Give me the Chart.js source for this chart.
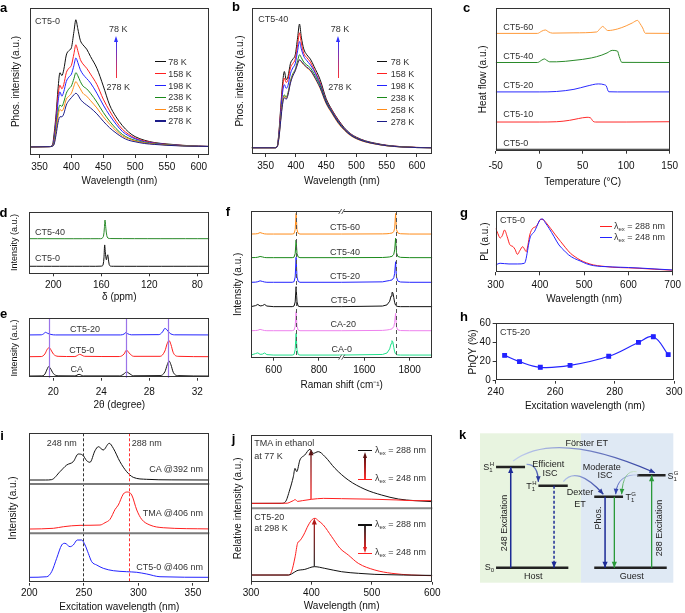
<!DOCTYPE html>
<html lang="en">
<head>
<meta charset="UTF-8">
<title>CT5 phosphorescence figure</title>
<style>
  body { margin: 0; background: #fff; }
  #wrap { position: relative; width: 685px; height: 613px; overflow: hidden; background: #fff;
          font-family: "Liberation Sans", Arial, sans-serif; color: #222; }
  #wrap canvas { position: absolute; left: 0; top: 0; }
  .t { position: absolute; white-space: nowrap; line-height: 1; }
  .sb { font-size: 6px; vertical-align: -2px; }
  .sp { font-size: 6px; vertical-align: 4px; margin-left: -3px; }
</style>
</head>
<body>
<div id="wrap"></div>
<script src="https://cdn.jsdelivr.net/npm/chart.js"></script>
<script>
// ---------- data ----------
const tempLabels = ['78 K', '158 K', '198 K', '238 K', '258 K', '278 K'];

// a: CT5-0 phosphorescence vs temperature
const aWl = [335, 365, 370, 373, 376, 379, 382, 385, 388, 392, 396, 400, 404, 407, 410, 414, 418, 424, 430, 440, 450, 460, 470, 480, 490, 500, 515, 530, 550, 575, 600, 616];
const a78  = [5.5, 5.7, 6.5, 15, 28, 45, 56, 54, 58, 68, 71, 73, 84, 92, 86, 78, 75, 72, 67, 59, 47, 34, 26, 20, 15.5, 12.5, 10, 8.5, 7.5, 6.6, 6.0, 5.8];
const a158 = [5.5, 5.7, 6.3, 12, 25, 40, 47.5, 45, 48, 56, 59, 61, 69, 75, 71, 65, 62, 59, 55, 48, 38, 30, 23, 17.5, 14, 11.5, 9.5, 8.2, 7.2, 6.5, 6.0, 5.8];
const a198 = [5.5, 5.7, 6.2, 11, 22, 36, 43, 40, 43, 50, 53, 55, 61, 66, 63, 58, 55, 52, 49, 42, 34, 27, 21, 16, 13, 11, 9, 8, 7.1, 6.4, 6.0, 5.8];
const a238 = [5.5, 5.7, 6.1, 9, 18, 29, 34, 33, 36, 42, 45, 47, 52, 56, 54, 50, 47, 45, 42, 36, 29, 23, 18, 14, 11.5, 10, 8.5, 7.6, 6.9, 6.3, 5.9, 5.8];
const a258 = [5.5, 5.7, 6.0, 8, 16, 26, 31, 30, 32, 38, 40, 42, 47, 50, 48, 45, 42, 40, 37, 32, 26, 21, 16.5, 13, 11, 9.5, 8.2, 7.4, 6.8, 6.2, 5.9, 5.8];
const a278 = [5.5, 5.7, 5.9, 7.5, 14, 22, 26, 26, 28, 34, 37, 39, 41, 42, 41, 38, 36, 34, 32, 28, 23, 18.5, 15, 12, 10, 9, 7.8, 7.2, 6.6, 6.1, 5.9, 5.8];

// b: CT5-40 phosphorescence vs temperature
const bWl = [327, 365, 369, 372, 375, 378, 381, 384, 387, 391, 395, 399, 403, 406, 409, 413, 418, 424, 430, 440, 450, 460, 470, 480, 490, 500, 515, 530, 550, 575, 600, 625];
const b78  = [4.3, 4.3, 5, 15, 32, 48, 56.5, 51, 53, 62, 65, 68, 80, 89, 80, 72, 68, 65, 60, 51, 38, 30, 23.5, 18, 14, 11.5, 9, 7.5, 6, 5, 4.5, 4.3];
const b158 = [4.3, 4.3, 5, 14, 30, 45, 52, 49, 51, 59, 62, 65, 75, 83, 76, 69, 66, 63, 58, 49, 37, 29.5, 23, 17.5, 13.7, 11.2, 8.8, 7.3, 5.9, 5, 4.5, 4.3];
const b198 = [4.3, 4.3, 5, 13, 28, 42, 47.5, 45, 47, 55, 59, 62, 71, 77, 72, 67, 64, 61, 57, 48, 36.5, 29, 22.5, 17.3, 13.5, 11, 8.7, 7.2, 5.8, 4.9, 4.4, 4.3];
const b238 = [4.3, 4.3, 5, 12, 25, 36, 40.5, 39, 42, 50, 55, 58, 64, 68, 66, 63, 61, 59, 55, 47, 36, 28.5, 22, 17, 13.2, 10.8, 8.5, 7.1, 5.7, 4.9, 4.4, 4.3];
const b258 = [4.3, 4.3, 4.8, 11, 24, 35, 39.5, 38, 41, 49, 54, 57, 62, 64.5, 63, 61, 59, 57, 53, 45, 34.5, 27.5, 21, 16.3, 12.7, 10.4, 8.2, 6.9, 5.6, 4.8, 4.4, 4.3];
const b278 = [4.3, 4.3, 4.8, 11, 23, 34, 38.5, 37.5, 40.5, 48.5, 53.5, 57, 62, 64.5, 63.5, 61.5, 59.5, 57.5, 53.5, 45.5, 35, 28, 21.5, 16.6, 13, 10.6, 8.4, 7, 5.7, 4.8, 4.4, 4.3];

// c: DSC heat flow
const c0T = [-50, 150];
const c0H = [1, 1];
const c10T = [-50, 0, 20, 35, 45, 55, 59, 62, 65, 100, 150];
const c10H = [20.1, 20.1, 20.3, 21.3, 22.5, 23.4, 23, 20.6, 20.1, 20.1, 20.3];
const c20T = [-50, 0, 20, 40, 55, 68, 75, 77, 80, 90, 150];
const c20H = [41.2, 41.2, 41.5, 43, 45.3, 46.8, 46.2, 45.5, 41.3, 41.2, 41.2];
const c40T = [-50, -2, 3, 6, 9, 12, 20, 40, 60, 72, 78, 84, 90, 92, 95, 150];
const c40H = [61.8, 61.8, 63.5, 64.3, 63.2, 62.3, 62.3, 63.3, 65, 67, 68.5, 70.3, 69.8, 66, 61.9, 61.8];
const c60T = [-50, -2, 3, 7, 11, 15, 40, 66, 70, 73, 76, 79, 90, 100, 107, 113, 116, 119, 122, 150];
const c60H = [82.2, 82.2, 83.8, 84.6, 83.2, 82.4, 82.6, 83.2, 85.5, 87.1, 85.5, 84.2, 85.3, 87.5, 89.5, 91.3, 89, 86, 82.3, 82.2];

// d: 13C NMR
const d0ppm = [220, 170, 160, 158.6, 157.8, 157.2, 156.6, 155.8, 155.2, 154.6, 154.1, 153.4, 152.6, 150, 70];
const d0val = [11.4, 11.4, 11.6, 13, 25, 46, 33, 22, 27, 30, 23, 14, 11.8, 11.4, 11.4];
const d40ppm = [220, 162, 159.5, 158.2, 157.5, 156.9, 156.2, 155.4, 154.5, 152, 70];
const d40val = [56.2, 56.2, 56.6, 60, 72, 86.5, 73, 61, 57.2, 56.4, 56.2];

// e: XRD
const eCA2t = [18, 19.0, 19.3, 19.5, 19.6, 19.75, 20.0, 20.4, 21.8, 22.15, 22.5, 25.5, 25.9, 26.1, 26.3, 26.7, 28.9, 29.3, 29.5, 29.65, 29.8, 30.0, 30.4, 33];
const eCAval = [2.8, 3.0, 6, 15, 18.5, 16, 7, 3.2, 3.0, 5.6, 3.0, 3.0, 6.5, 10, 7.5, 3.2, 3.5, 10, 22, 28, 22, 9, 3.5, 2.8];
const eCT0_2t = [18, 19.0, 19.3, 19.5, 19.65, 19.8, 20.0, 20.4, 21.8, 22.2, 22.6, 25.5, 25.9, 26.1, 26.3, 26.7, 28.9, 29.3, 29.5, 29.65, 29.8, 30.0, 30.4, 33];
const eCT0val = [35.4, 35.6, 40, 48, 50.6, 47, 40, 36, 35.6, 39.3, 36, 35.6, 40, 46.6, 42, 36, 36, 45, 58, 62.4, 56, 42, 36, 35.4];
const eCT20_2t = [18, 19.0, 19.2, 19.35, 19.5, 19.8, 20.2, 25.6, 25.9, 26.05, 26.2, 26.5, 28.8, 29.1, 29.3, 29.45, 29.7, 30.1, 33];
const eCT20val = [72, 72.2, 74, 76.4, 75, 72.8, 72, 72, 73.5, 76, 74, 72.2, 72.5, 77, 83, 81, 75, 72.2, 72];
const eRefLines = [19.6, 26.1, 29.6];

// f: Raman (axis broken between 900 and 1500 cm-1)
const fShift = [500, 520, 530, 540, 550, 560, 570, 600, 682, 690, 695, 699, 703, 708, 716, 800, 900, 1500, 1680, 1700, 1712, 1718, 1722, 1726, 1730, 1734, 1738, 1742, 1748, 1760, 1800, 1900];
const fCT60 = [84.3, 84.4, 84.6, 85.3, 84.8, 84.4, 84.3, 84.3, 84.3, 84.6, 87.3, 98.4, 87.3, 84.8, 84.3, 84.3, 84.3, 84.3, 84.4, 84.5, 84.7, 84.9, 85.1, 85.4, 85.9, 88.3, 98.3, 87.3, 85, 84.5, 84.3, 84.3];
const fCT40 = [68.2, 68.3, 68.5, 69, 68.7, 68.3, 68.2, 68.2, 68.2, 68.5, 71, 80.2, 71, 68.7, 68.2, 68.2, 68.2, 68.2, 68.3, 68.5, 68.7, 69, 69.3, 69.7, 70.5, 73.5, 81.4, 71.5, 69, 68.4, 68.2, 68.2];
const fCT20 = [51.4, 51.5, 51.8, 52.4, 52, 51.6, 51.4, 51.4, 51.4, 51.8, 55, 68.4, 55, 52, 51.4, 51.4, 51.4, 51.4, 51.7, 52.3, 52.6, 52.9, 53.2, 53.6, 54.5, 57.5, 65.4, 55, 52.2, 51.6, 51.4, 51.4];
const fCT0  = [34.8, 35.5, 36.3, 35.3, 35.5, 36.3, 35.2, 34.8, 34.8, 35.2, 38, 48.4, 38, 35.2, 34.8, 34.8, 34.8, 34.8, 35.2, 36, 38.5, 42, 44.5, 44.3, 41, 37.5, 35.8, 35.2, 34.9, 34.8, 34.8, 34.8];
const fCA20 = [18.4, 18.5, 18.7, 19.3, 18.9, 18.5, 18.4, 18.4, 18.4, 18.8, 21.5, 31.4, 21.5, 18.9, 18.4, 18.4, 18.4, 18.4, 18.6, 18.9, 19.2, 19.5, 19.9, 20.3, 21, 24, 30.2, 21, 18.9, 18.5, 18.4, 18.4];
const fCA0  = [1.8, 2.8, 3.3, 2.3, 2.4, 3.2, 2.1, 1.8, 1.8, 2.2, 5.5, 16.6, 5.5, 2.2, 1.8, 1.8, 1.8, 1.8, 2.2, 3.2, 6, 9.5, 11.6, 10.8, 7, 4, 2.6, 2.1, 1.9, 1.8, 1.8, 1.8];
const fRefShifts = [699, 1738];
const fTicks = [600, 800, 1600, 1800];

// g: PL of CT5-0 at two excitations
const gWl288 = [300, 305, 310, 315, 320, 326, 332, 339, 344, 349, 355, 361, 365, 369, 373, 377, 384, 391, 396, 401, 408, 416, 424, 435, 447, 458, 469, 480, 491, 505, 521, 540, 565, 600, 624, 660, 700];
const gPL288 = [71.7, 63, 56, 60, 69, 58, 45, 42, 37, 29.3, 36, 41.8, 38, 33.7, 45, 61, 72, 74.5, 80, 86.4, 85.5, 79, 71.7, 61, 50, 40, 31, 25, 20, 15.5, 12, 10, 8.2, 7.3, 6.5, 5, 3.3];
const gWl248 = [300, 310, 330, 350, 365, 368, 371, 375, 378.5, 383, 387.4, 393, 398.5, 402, 406, 412, 420.7, 432, 443, 454, 465, 478, 491, 505, 521, 540, 565, 600, 624, 660, 700];
const gPL248 = [12, 14.7, 13.6, 13.6, 14.7, 20, 31, 48, 58, 63, 66.3, 75, 83.7, 86.5, 87, 81, 71.7, 58, 44.6, 36, 28.3, 22.5, 18.5, 14, 10.9, 9.5, 8.7, 7.8, 7, 5.5, 3.8];

// h: PhQY of CT5-20 vs excitation wavelength
const hWl = [243, 248, 255, 265, 278, 288, 293, 298];
const hQY = [26.5, 19.9, 14, 16, 25.5, 40, 46, 27.2];

// i: excitation spectra (three stacked panels)
const iCAWl = [200, 215, 220.5, 228.1, 234.3, 240.3, 244.9, 248.9, 252.6, 255.6, 260.2, 263.3, 267.8, 273.3, 277, 283.1, 289.3, 295.3, 307.6, 330, 365];
const iCAVal = [206.2, 206.2, 207, 222.9, 236.3, 243, 258.4, 256.4, 245, 241.8, 265, 273.1, 266.5, 279.9, 269.9, 243, 222.9, 211.6, 207.6, 206.5, 206.2];
const iTMAWl = [200, 222, 231.2, 246.5, 264.8, 269.4, 274, 278.7, 281.6, 286.2, 289.8, 293.9, 298.5, 303, 310.6, 322.8, 365];
const iTMAVal = [107.8, 109.2, 112.4, 115.2, 115.8, 120.5, 127.3, 147.4, 156, 178.1, 182.1, 176.1, 146, 127.3, 115.8, 110.4, 108];
const iCTWl = [200, 216, 220.5, 225.1, 229.7, 232.7, 237.3, 240.3, 244, 248, 251.1, 254.1, 257.2, 261.8, 267.8, 277, 289.3, 298.5, 307.6, 319.8, 365];
const iCTVal = [10.8, 12, 22.1, 49, 75.7, 79.1, 72.3, 75.7, 85.7, 85.7, 75.7, 59, 42.2, 35.5, 28.9, 24.1, 22.1, 20.9, 17.5, 12, 10.8];
const iExc = [249, 291];

// j: relative intensities, TMA in ethanol (top) and CT5-20 (bottom)
const jTopBlackWl = [300, 350, 357, 364, 370, 372.8, 375.6, 381, 389, 397.6, 403, 411.4, 422.4, 439, 461, 488.6, 516, 544, 571, 600];
const jTopBlack = [106.8, 106.8, 109, 125, 143, 154.5, 150, 166, 172.7, 180.5, 175, 177.3, 170.5, 154.5, 138.6, 125.9, 118.2, 112.7, 110.5, 109.1];
const jTopRedWl = [300, 360, 366, 370, 373, 377, 385, 400, 420, 450, 500, 540, 570, 600];
const jTopRed = [106.8, 107, 109, 110.5, 112, 109.5, 110.5, 112.3, 113.6, 113.2, 112.5, 111.5, 110.5, 110.5];
const jBotRedWl = [300, 362, 367, 373, 377, 381, 387, 395, 401.5, 406, 411.4, 419.7, 433.5, 447.3, 461, 477.6, 505, 533, 566, 600];
const jBotRed = [9.1, 9.1, 13.6, 34, 52.3, 55.9, 63.6, 77.3, 85, 86.4, 83.2, 77.3, 61.4, 45.5, 36.4, 25, 15.9, 11.4, 9.1, 8.2];
const jBotBlackWl = [300, 362, 367, 376, 389, 405, 422, 450, 478, 505, 600];
const jBotBlack = [9.1, 9.1, 10.5, 15, 16.8, 20.5, 18.2, 13.6, 11.4, 10, 8.6];

// k: energy level diagram (x: arbitrary position 0-100, y: energy 0-100)
const kLevelX0 = [8.3, 59.1, 8.3, 30.2, 59.1, 81.2];
const kLevelX1 = [45.7, 96.6, 23.3, 45.4, 74, 96];
const kLevelE  = [10, 10, 77.4, 64.9, 57.6, 71.9];
const kTransX    = [15.9, 38.3, 64.7, 69.5, 88.8];
const kTransFrom = [10, 64.9, 57.6, 57.6, 10];
const kTransTo   = [77.4, 10, 10, 10, 71.9];
const kCurves = [
  [17.1, 81.5, 39.4, 102.7, 90.5, 73.6],
  [24.1, 79.2, 30, 79.4, 30.2, 67.6],
  [43.1, 67.6, 50, 78.8, 63.8, 59.2],
  [81.9, 72.1, 71, 73, 70.2, 59.2],
  [81.1, 74.3, 74, 76, 73.3, 59.2]
];
const kSplit = 52.2;

// ---------- setup ----------
const W = 685, H = 613;
const wrap = document.getElementById('wrap');

Chart.defaults.font.family = '"Liberation Sans", Arial, sans-serif';
Chart.defaults.font.size = 10;
Chart.defaults.color = '#111';
Chart.defaults.animation = false;
Chart.defaults.responsive = false;
Chart.defaults.events = [];
Chart.defaults.plugins.legend.display = false;
Chart.defaults.plugins.tooltip.enabled = false;

function pts(xs, ys) { return xs.map((x, i) => ({ x: x, y: ys[i] })); }
function line(xs, ys, color, extra) {
  return Object.assign({ data: pts(xs, ys), borderColor: color, borderWidth: 1, pointRadius: 0,
    fill: false, cubicInterpolationMode: 'monotone' }, extra || {});
}

function head(ctx, x, y, ang, len, wid, color) {
  const c = Math.cos(ang), s = Math.sin(ang);
  ctx.fillStyle = color;
  ctx.beginPath();
  ctx.moveTo(x, y);
  ctx.lineTo(x - len * c + wid * s, y - len * s - wid * c);
  ctx.lineTo(x - len * c - wid * s, y - len * s + wid * c);
  ctx.closePath();
  ctx.fill();
}

const framePlugin = {
  id: 'frame',
  afterDatasetsDraw(chart, args, o) {
    const ctx = chart.ctx, a = chart.chartArea, sx = chart.scales.x, sy = chart.scales.y;
    ctx.save();
    (o.vlines || []).forEach(l => {
      const px = Math.round(sx.getPixelForValue(l.x)) + 0.5;
      ctx.strokeStyle = l.color; ctx.lineWidth = l.width || 1; ctx.setLineDash(l.dash || []);
      ctx.beginPath(); ctx.moveTo(px, a.top); ctx.lineTo(px, a.bottom); ctx.stroke();
    });
    ctx.setLineDash([]);
    (o.hlines || []).forEach(l => {
      const py = sy.getPixelForValue(l.y);
      ctx.strokeStyle = l.color; ctx.lineWidth = l.width || 1;
      ctx.beginPath(); ctx.moveTo(a.left, py); ctx.lineTo(a.right, py); ctx.stroke();
    });
    (o.arrows || []).forEach(ar => {
      const px = sx.getPixelForValue(ar.x), p0 = sy.getPixelForValue(ar.y0), p1 = sy.getPixelForValue(ar.y1);
      const g = ctx.createLinearGradient(0, p0, 0, p1);
      g.addColorStop(0, ar.c0); g.addColorStop(1, ar.c1);
      const up = p1 < p0;
      ctx.strokeStyle = g; ctx.lineWidth = 1.3;
      ctx.beginPath(); ctx.moveTo(px, p0); ctx.lineTo(px, p1 + (up ? 4 : -4)); ctx.stroke();
      head(ctx, px, p1, up ? -Math.PI / 2 : Math.PI / 2, 6, 2.5, ar.c1);
    });
    if (o.box !== false) {
      ctx.strokeStyle = '#333'; ctx.lineWidth = 1;
      ctx.strokeRect(Math.round(a.left) + 0.5, Math.round(a.top) + 0.5,
        Math.round(a.right - a.left) - 1, Math.round(a.bottom - a.top) - 1);
    }
    if (o.breakAt != null) {
      const px = sx.getPixelForValue(o.breakAt);
      [a.top + 0.5, a.bottom - 0.5].forEach(py => {
        ctx.fillStyle = '#fff'; ctx.fillRect(px - 2, py - 2, 4, 4);
        ctx.strokeStyle = '#333'; ctx.lineWidth = 0.8;
        [-1.5, 1.5].forEach(d => {
          ctx.beginPath(); ctx.moveTo(px + d - 1.5, py + 2.5); ctx.lineTo(px + d + 1.5, py - 2.5); ctx.stroke();
        });
      });
    }
    ctx.restore();
  }
};
Chart.register(framePlugin);

function makeCanvas() {
  const c = document.createElement('canvas');
  c.width = W; c.height = H;
  wrap.appendChild(c);
  return c;
}

// p.box = plot area in page pixels; titles placed by their centre
function panel(p) {
  const b = p.box;
  const yLh = (p.yTitleSize || 10) * 1.2;
  const yw = b.l - (p.yTitleX - yLh / 2);
  const xh = p.xTitleY + 2 - (b.t + b.h);
  const yScale = {
    min: p.yMin, max: p.yMax,
    afterFit: s => { s.width = yw; },
    ticks: { display: !!p.yTicks, padding: 2, color: '#111', callback: v => String(v) },
    grid: { display: !!p.yTicks, drawOnChartArea: false, tickLength: 3, color: '#333' },
    border: { display: false },
    title: { display: true, text: p.yTitle, padding: 0, color: '#111', font: { size: p.yTitleSize || 10 } }
  };
  if (p.yTicks) yScale.afterBuildTicks = s => { s.ticks = p.yTicks.map(v => ({ value: v })); };
  const c = makeCanvas();
  return new Chart(c, {
    type: 'line',
    data: { datasets: p.datasets },
    options: {
      layout: { padding: { left: b.l - yw, top: b.t, right: W - b.l - b.w, bottom: H - b.t - b.h - xh } },
      scales: {
        x: {
          type: 'linear', min: p.xMin, max: p.xMax, reverse: !!p.xReverse,
          afterFit: s => { s.height = xh; },
          afterBuildTicks: s => { s.ticks = p.xTicks.map(v => ({ value: v })); },
          ticks: { padding: p.xPad, maxRotation: 0, autoSkip: false, color: '#111',
                   callback: p.xLabel || (v => String(v)) },
          grid: { drawOnChartArea: false, tickLength: 3, color: '#333' },
          border: { display: false },
          title: { display: true, text: p.xTitle, padding: { top: 0, bottom: -4 }, color: '#111', font: { size: 10 } }
        },
        y: yScale
      },
      plugins: { frame: p.frame || {} }
    }
  });
}

// html text helpers (page pixel anchors)
function txt(x, y, html, o) {
  o = o || {};
  const d = document.createElement('div');
  d.className = 't';
  d.innerHTML = html;
  d.style.left = x + 'px';
  d.style.top = y + 'px';
  d.style.fontSize = (o.size || 9) + 'px';
  d.style.color = o.color || '#222';
  if (o.bold) d.style.fontWeight = 'bold';
  const ax = o.align === 'right' ? '-100%' : o.align === 'left' ? '0' : '-50%';
  d.style.transform = 'translate(' + ax + ',-50%)' + (o.rot ? ' rotate(-90deg)' : '');
  wrap.appendChild(d);
}
function swatch(x0, x1, y, color) {
  const d = document.createElement('div');
  d.style.cssText = 'position:absolute;left:' + x0 + 'px;top:' + (y - 0.75) + 'px;width:' + (x1 - x0) +
    'px;height:1.5px;background:' + color;
  wrap.appendChild(d);
}
function vArrow(x, yFrom, yTo, cFrom, cTo) {
  const up = yTo < yFrom;
  const top = up ? yTo + 4 : yFrom, h = Math.abs(yTo - yFrom) - 4;
  const s = document.createElement('div');
  s.style.cssText = 'position:absolute;left:' + (x - 0.75) + 'px;top:' + top + 'px;width:1.5px;height:' + h +
    'px;background:linear-gradient(' + (up ? 'to top' : 'to bottom') + ',' + cFrom + ',' + cTo + ')';
  wrap.appendChild(s);
  const hd = document.createElement('div');
  hd.style.cssText = 'position:absolute;left:' + (x - 2.5) + 'px;top:' + (up ? yTo : yTo - 6) +
    'px;width:0;height:0;border-left:2.5px solid transparent;border-right:2.5px solid transparent;' +
    (up ? 'border-bottom' : 'border-top') + ':6px solid ' + cTo;
  wrap.appendChild(hd);
}
const lex = 'λ<span class="sb">ex</span>';
function lev(s, a, b) { return s + '<span class="sb">' + a + '</span>' + (b ? '<span class="sp">' + b + '</span>' : ''); }

const tempColors = ['#111111', '#ff2020', '#2323ff', '#1b8a1b', '#ff8c1a', '#1c1c88'];

// ---------- a ----------
panel({
  box: { l: 30, t: 8, w: 179, h: 147 },
  xMin: 335, xMax: 616, xTicks: [350, 400, 450, 500, 550, 600], xPad: 3,
  xTitle: 'Wavelength (nm)', xTitleY: 181.7,
  yMin: 0, yMax: 100, yTitle: 'Phos. intensity (a.u.)', yTitleX: 16.7,
  datasets: [a278, a258, a238, a198, a158, a78].map((ys, i) => line(aWl, ys, tempColors[5 - i]))
});

// ---------- b ----------
panel({
  box: { l: 251.7, t: 8, w: 180.3, h: 146 },
  xMin: 327, xMax: 625, xTicks: [350, 400, 450, 500, 550, 600], xPad: 3,
  xTitle: 'Wavelength (nm)', xTitleY: 181.7,
  yMin: 0, yMax: 100, yTitle: 'Phos. intensity (a.u.)', yTitleX: 240,
  datasets: [b278, b258, b238, b198, b158, b78].map((ys, i) => line(bWl, ys, tempColors[5 - i]))
});

// ---------- c ----------
panel({
  box: { l: 495.7, t: 8, w: 180, h: 142.7 },
  xMin: -50, xMax: 150, xTicks: [-50, 0, 50, 100, 150], xPad: 7,
  xTitle: 'Temperature (°C)', xTitleY: 182.7,
  yMin: 0, yMax: 100, yTitle: 'Heat flow (a.u.)', yTitleX: 483.3,
  datasets: [
    line(c0T, c0H, '#222'),
    line(c10T, c10H, '#ff2a2a'),
    line(c20T, c20H, '#2a2aff'),
    line(c40T, c40H, '#2a8a2a'),
    line(c60T, c60H, '#ff9a3a')
  ]
});

// ---------- d ----------
panel({
  box: { l: 29.3, t: 211.7, w: 180, h: 61.6 },
  xMin: 70, xMax: 220, xReverse: true, xTicks: [200, 160, 120, 80], xPad: 2.5,
  xTitle: 'δ (ppm)', xTitleY: 297.3,
  yMin: 0, yMax: 100, yTitle: 'Intensity (a.u.)', yTitleX: 15, yTitleSize: 9,
  datasets: [
    line(d0ppm, d0val, '#111', { cubicInterpolationMode: 'default', tension: 0.3 }),
    line(d40ppm, d40val, '#2a8a2a', { cubicInterpolationMode: 'default', tension: 0.3 })
  ]
});

// ---------- e ----------
panel({
  box: { l: 29.3, t: 318.3, w: 180, h: 59.4 },
  xMin: 18, xMax: 33, xTicks: [20, 24, 28, 32], xPad: 5.5,
  xTitle: '2θ (degree)', xTitleY: 405,
  yMin: 0, yMax: 100, yTitle: 'Intensity (a.u.)', yTitleX: 15, yTitleSize: 9,
  datasets: [
    line(eCA2t, eCAval, '#111'),
    line(eCT0_2t, eCT0val, '#ff2020'),
    line(eCT20_2t, eCT20val, '#2323ff')
  ],
  frame: { vlines: eRefLines.map(x => ({ x: x, color: '#9b74e8', width: 1.2 })) }
});

// ---------- f ----------
const fMap = v => (v <= 900 ? v : v - 600);
panel({
  box: { l: 251, t: 211, w: 181.3, h: 146.7 },
  xMin: 500, xMax: 1300, xTicks: fTicks.map(fMap), xPad: 4,
  xLabel: v => String(v <= 900 ? v : v + 600),
  xTitle: 'Raman shift (cm⁻¹)', xTitleY: 385.7,
  yMin: 0, yMax: 100, yTitle: 'Intensity (a.u.)', yTitleX: 238.3,
  datasets: [
    [fCT60, '#ff8c1a'], [fCT40, '#1b8a1b'], [fCT20, '#2323ff'],
    [fCT0, '#111'], [fCA20, '#ee82ee'], [fCA0, '#1fe08a']
  ].map(s => line(fShift.map(fMap), s[0], s[1], { cubicInterpolationMode: 'default', tension: 0 })),
  frame: {
    vlines: fRefShifts.map(x => ({ x: fMap(x), color: '#555', dash: [4, 3], width: 1 })),
    breakAt: 900
  }
});

// ---------- g ----------
panel({
  box: { l: 495.7, t: 211, w: 180, h: 61.3 },
  xMin: 300, xMax: 700, xTicks: [300, 400, 500, 600, 700], xPad: 4,
  xTitle: 'Wavelength (nm)', xTitleY: 299,
  yMin: 0, yMax: 100, yTitle: 'PL (a.u.)', yTitleX: 485,
  datasets: [
    line(gWl248, gPL248, '#2323ff'),
    line(gWl288, gPL288, '#ff2020')
  ]
});

// ---------- h ----------
panel({
  box: { l: 495.7, t: 323.3, w: 180, h: 57.4 },
  xMin: 240, xMax: 300, xTicks: [240, 260, 280, 300], xPad: 2.5,
  xTitle: 'Excitation wavelength (nm)', xTitleY: 406.7,
  yMin: 0, yMax: 60, yTicks: [0, 20, 40, 60], yTitle: 'PhQY (%)', yTitleX: 473.3,
  datasets: [
    line(hWl, hQY, '#2323ff', { cubicInterpolationMode: 'default', tension: 0.4, pointRadius: 2.6,
      pointStyle: 'rect', pointBackgroundColor: '#2323ff', pointBorderColor: '#2323ff', borderWidth: 1.2 })
  ]
});

// ---------- i ----------
panel({
  box: { l: 29.3, t: 433.3, w: 180, h: 149.4 },
  xMin: 200, xMax: 365, xTicks: [200, 250, 300, 350], xPad: 1.5,
  xTitle: 'Excitation wavelength (nm)', xTitleY: 607,
  yMin: 0, yMax: 300, yTitle: 'Intensity (a.u.)', yTitleX: 13.3,
  datasets: [
    line(iCAWl, iCAVal, '#111'),
    line(iTMAWl, iTMAVal, '#ff2020'),
    line(iCTWl, iCTVal, '#2323ff')
  ],
  frame: {
    hlines: [{ y: 99.2, color: '#7a7a7a', width: 2 }, { y: 198.2, color: '#7a7a7a', width: 2 }],
    vlines: [{ x: iExc[0], color: '#333', dash: [3, 2] }, { x: iExc[1], color: '#ff3030', dash: [3, 2] }]
  }
});

// ---------- j ----------
panel({
  box: { l: 251, t: 435, w: 181.3, h: 146.7 },
  xMin: 300, xMax: 600, xTicks: [300, 400, 500, 600], xPad: 2.5,
  xTitle: 'Wavelength (nm)', xTitleY: 606.5,
  yMin: 0, yMax: 200, yTitle: 'Relative intensity (a.u.)', yTitleX: 238.3,
  datasets: [
    line(jTopRedWl, jTopRed, '#ff2020'),
    line(jTopBlackWl, jTopBlack, '#111'),
    line(jBotBlackWl, jBotBlack, '#111'),
    line(jBotRedWl, jBotRed, '#ff2020')
  ],
  frame: {
    hlines: [{ y: 100, color: '#8a8a8a', width: 2 }],
    arrows: [
      { x: 399.3, y0: 112.3, y1: 180.5, c0: '#ff2020', c1: '#5a1010' },
      { x: 404.8, y0: 20.5, y1: 86, c0: '#333', c1: '#b01818' }
    ]
  }
});

// ---------- k ----------
const kTransColors = ['#1c2a96', '#1c2a96', '#1c2a96', '#2a9a3a', '#2a9a3a'];
const kCurveFrom = ['#c3d0f0', '#8fa2dc', '#b3c3ea', '#c9d5ef', '#cfe3cf'];
const kCurveTo = ['#2b3a9e', '#2b3a9e', '#2b3a9e', '#3444b0', '#2a9a3a'];
const kPlugin = {
  id: 'kdiag',
  beforeDatasetsDraw(chart) {
    const ctx = chart.ctx, sx = chart.scales.x, sy = chart.scales.y;
    const xa = sx.getPixelForValue(0), xm = sx.getPixelForValue(kSplit), xb = sx.getPixelForValue(100);
    const ya = sy.getPixelForValue(100), yb = sy.getPixelForValue(0);
    ctx.save();
    ctx.fillStyle = '#e8f4e0'; ctx.fillRect(xa, ya, xm - xa, yb - ya);
    ctx.fillStyle = '#dfe9f4'; ctx.fillRect(xm, ya, xb - xm, yb - ya);
    ctx.restore();
  },
  afterDatasetsDraw(chart) {
    const ctx = chart.ctx, sx = chart.scales.x, sy = chart.scales.y;
    ctx.save();
    chart.data.datasets.forEach((d, i) => {
      if (!d.head) return;
      const el = chart.getDatasetMeta(i).data;
      const p = el[0], q = el[1];
      head(ctx, q.x, q.y, Math.atan2(q.y - p.y, q.x - p.x), 6, 2.6, d.borderColor);
    });
    kCurves.forEach((cv, i) => {
      const x0 = sx.getPixelForValue(cv[0]), y0 = sy.getPixelForValue(cv[1]);
      const cx = sx.getPixelForValue(cv[2]), cy = sy.getPixelForValue(cv[3]);
      const x1 = sx.getPixelForValue(cv[4]), y1 = sy.getPixelForValue(cv[5]);
      const g = ctx.createLinearGradient(x0, y0, x1, y1);
      g.addColorStop(0, kCurveFrom[i]); g.addColorStop(1, kCurveTo[i]);
      ctx.strokeStyle = g; ctx.lineWidth = i < 3 ? 1.3 : 1;
      ctx.beginPath(); ctx.moveTo(x0, y0); ctx.quadraticCurveTo(cx, cy, x1, y1); ctx.stroke();
      head(ctx, x1, y1, Math.atan2(y1 - cy, x1 - cx), 5.5, 2.4, kCurveTo[i]);
    });
    ctx.restore();
  }
};
(function () {
  const b = { l: 480, t: 433.3, w: 193.3, h: 149.4 };
  const datasets = [];
  kTransX.forEach((x, i) => datasets.push({
    data: [{ x: x, y: kTransFrom[i] }, { x: x, y: kTransTo[i] }],
    borderColor: kTransColors[i], borderWidth: i < 3 ? 1.5 : 1.3, pointRadius: 0,
    borderDash: i === 1 ? [3, 2] : [], head: true
  }));
  kLevelE.forEach((e, i) => datasets.push({
    data: [{ x: kLevelX0[i], y: e }, { x: kLevelX1[i], y: e }],
    borderColor: '#222', borderWidth: 2.5, pointRadius: 0
  }));
  new Chart(makeCanvas(), {
    type: 'line',
    data: { datasets: datasets },
    options: {
      layout: { padding: { left: b.l, top: b.t, right: W - b.l - b.w, bottom: H - b.t - b.h } },
      scales: { x: { type: 'linear', display: false, min: 0, max: 100 }, y: { display: false, min: 0, max: 100 } },
      plugins: { frame: false }
    },
    plugins: [kPlugin]
  });
})();

// ---------- text ----------
[['a', 3.5, 6.5], ['b', 236, 6], ['c', 466.5, 6.5], ['d', 3.5, 211.5], ['e', 3.5, 313], ['f', 228, 211],
 ['g', 464, 211.5], ['h', 464, 316], ['i', 2, 435], ['j', 233.5, 437.5], ['k', 462.5, 434]]
  .forEach(l => txt(l[1], l[2], l[0], { size: 13, bold: true, color: '#000' }));

// a
txt(35, 20.7, 'CT5-0', { align: 'left', color: '#333' });
txt(118.3, 29.3, '78 K', { color: '#333' });
txt(118.3, 87.3, '278 K', { color: '#333' });
vArrow(116.7, 78.3, 36, '#ff3030', '#3030ff');
tempLabels.forEach((t, i) => {
  swatch(155, 165.5, 61.7 + i * 11.9, tempColors[i]);
  txt(168.3, 61.7 + i * 11.9, t, { align: 'left', color: '#333' });
});
// b
txt(258.3, 19.3, 'CT5-40', { align: 'left', color: '#333' });
txt(340, 29.3, '78 K', { color: '#333' });
txt(340, 87.3, '278 K', { color: '#333' });
vArrow(338.3, 78.3, 36, '#ff3030', '#3030ff');
tempLabels.forEach((t, i) => {
  swatch(376.7, 387.3, 61.7 + i * 12, tempColors[i]);
  txt(390.7, 61.7 + i * 12, t, { align: 'left', color: '#333' });
});
// c
[['CT5-60', 26.7], ['CT5-40', 55.7], ['CT5-20', 85], ['CT5-10', 114.3], ['CT5-0', 143.3]]
  .forEach(l => txt(503.3, l[1], l[0], { align: 'left', color: '#333' }));
// d, e
txt(35, 231.7, 'CT5-40', { align: 'left', color: '#333' });
txt(35, 258.3, 'CT5-0', { align: 'left', color: '#333' });
txt(85, 329.3, 'CT5-20', { color: '#333' });
txt(81.7, 350, 'CT5-0', { color: '#333' });
txt(76.7, 369, 'CA', { color: '#333' });
// f
[['CT5-60', 345, 227.3], ['CT5-40', 345, 251.7], ['CT5-20', 345, 275.7], ['CT5-0', 343.3, 300],
 ['CA-20', 343.3, 324.3], ['CA-0', 341.7, 349]].forEach(l => txt(l[1], l[2], l[0], { color: '#333' }));
// g, h
txt(500, 220, 'CT5-0', { align: 'left', color: '#333' });
swatch(600, 611.7, 226.7, '#ff2020');
swatch(600, 611.7, 237.7, '#2323ff');
txt(614, 226.7, lex + ' = 288 nm', { align: 'left', color: '#333' });
txt(614, 237.7, lex + ' = 248 nm', { align: 'left', color: '#333' });
txt(500, 331.7, 'CT5-20', { align: 'left', color: '#333' });
// i
txt(61.7, 443.3, '248 nm', { color: '#333' });
txt(146.7, 443.3, '288 nm', { color: '#333' });
txt(203, 469, 'CA @392 nm', { align: 'right', color: '#333' });
txt(203, 513, 'TMA @406 nm', { align: 'right', color: '#333' });
txt(203, 566.7, 'CT5-0 @406 nm', { align: 'right', color: '#333' });
// j
txt(254.3, 443.3, 'TMA in ethanol', { align: 'left', color: '#333' });
txt(254.3, 456, 'at 77 K', { align: 'left', color: '#333' });
txt(254.3, 516.7, 'CT5-20', { align: 'left', color: '#333' });
txt(254.3, 528.3, 'at 298 K', { align: 'left', color: '#333' });
swatch(358.3, 371.7, 450.7, '#111');
swatch(358.3, 371.7, 479.3, '#ff2020');
vArrow(365, 479.3, 451.5, '#ff3030', '#5a1010');
txt(375, 450.7, lex + ' = 288 nm', { align: 'left', color: '#333' });
txt(375, 479.3, lex + ' = 248 nm', { align: 'left', color: '#333' });
swatch(358.3, 371.7, 525, '#111');
swatch(358.3, 371.7, 553.3, '#ff2020');
vArrow(365, 525.5, 552.5, '#333', '#e02020');
txt(375, 525, lex + ' = 288 nm', { align: 'left', color: '#333' });
txt(375, 553.3, lex + ' = 248 nm', { align: 'left', color: '#333' });
// k
txt(586.7, 443.3, 'Förster ET');
txt(548.3, 464, 'Efficient');
txt(550, 472.7, 'ISC');
txt(601.7, 466.7, 'Moderate');
txt(605, 475, 'ISC');
txt(580, 492.3, 'Dexter');
txt(580, 504, 'ET');
txt(494, 466.5, lev('S', '1', 'H'), { align: 'right' });
txt(536.5, 485.5, lev('T', '1', 'H'), { align: 'right' });
txt(625.5, 496.5, lev('T', '1', 'G'), { align: 'left' });
txt(667.5, 475.5, lev('S', '1', 'G'), { align: 'left' });
txt(494, 567.5, lev('S', '0'), { align: 'right' });
txt(533.3, 576, 'Host');
txt(631.7, 576, 'Guest');
txt(504.3, 523, '248 Excitation', { rot: true });
txt(598, 518, 'Phos.', { rot: true });
txt(659, 528, '288 Excitation', { rot: true });
</script>
</body>
</html>
